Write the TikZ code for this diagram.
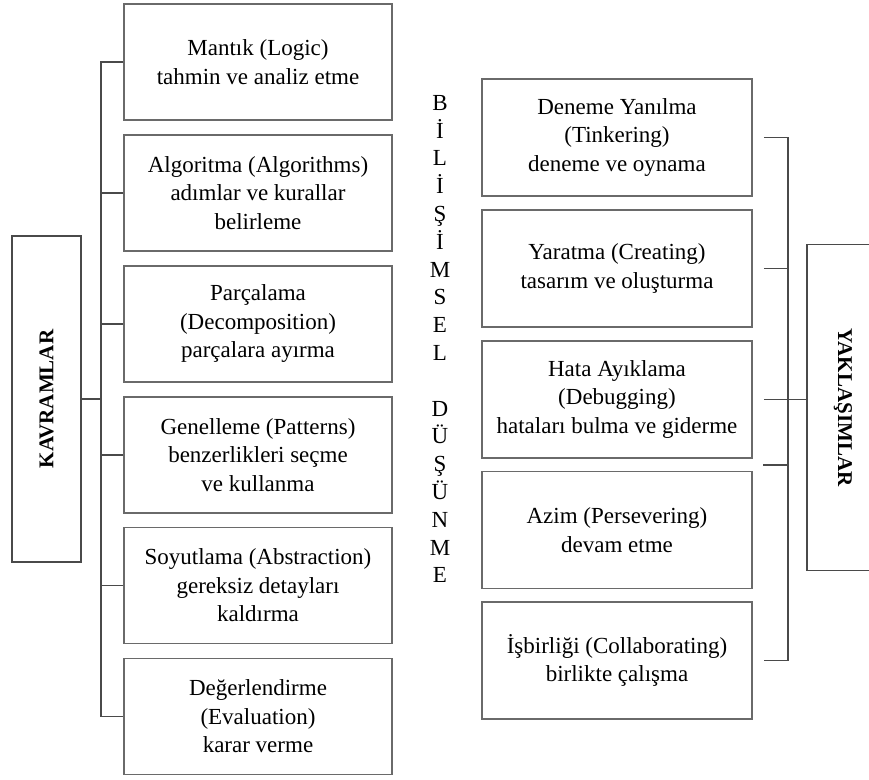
\documentclass[tikz,border=0pt]{standalone}
\usepackage{fontspec}
\setmainfont{Liberation Serif}
\definecolor{kutugri}{HTML}{6A6A6A}
\definecolor{kolgri}{HTML}{4A4A4A}
\begin{document}
\begin{tikzpicture}[x=0.5pt,y=-0.5pt,
	kutu/.style={draw=kutugri, line width=0.75pt, minimum width=134pt, minimum height=58pt, inner sep=0pt, align=center, font=\fontsize{11.5}{14.25}\selectfont},
	sagkutu/.style={kutu, minimum width=135pt, minimum height=58.5pt},
	ana/.style={draw=kolgri, line width=0.75pt, minimum width=163pt, minimum height=34.5pt, inner sep=0pt, font=\fontsize{10.5}{12}\selectfont\bfseries},
	kol/.style={draw=kolgri, line width=0.75pt}]
	\useasboundingbox (0,0) rectangle (869,780);

	\node[ana, rotate=90] (kavram) at (46.5,399) {KAVRAMLAR};
	\node[ana, rotate=-90, minimum height=36pt] (yaklas) at (843,407.5) {YAKLAŞIMLAR};

	\node[kutu] (l1) at (258,62) {Mantık (Logic)\\tahmin ve analiz etme};
	\node[kutu] (l2) at (258,193) {Algoritma (Algorithms)\\adımlar ve kurallar\\belirleme};
	\node[kutu] (l3) at (258,324) {Parçalama\\(Decomposition)\\parçalara ayırma};
	\node[kutu] (l4) at (258,455) {Genelleme (Patterns)\\benzerlikleri seçme\\ve kullanma};
	\node[kutu] (l5) at (258,585.5) {Soyutlama (Abstraction)\\gereksiz detayları\\kaldırma};
	\node[kutu] (l6) at (258,716.5) {Değerlendirme\\(Evaluation)\\karar verme};

	\node[sagkutu] (r1) at (617,137.5) {Deneme Yanılma\\(Tinkering)\\deneme ve oynama};
	\node[sagkutu] (r2) at (617,268.5) {Yaratma (Creating)\\tasarım ve oluşturma};
	\node[sagkutu] (r3) at (617,399.5) {Hata Ayıklama\\(Debugging)\\hataları bulma ve giderme};
	\node[sagkutu] (r4) at (617,530) {Azim (Persevering)\\devam etme};
	\node[sagkutu] (r5) at (617,660.5) {İşbirliği (Collaborating)\\birlikte çalışma};

	\node[align=center, font=\fontsize{11.5}{13.9}\selectfont] (bd) at (440,339) {B\\İ\\L\\İ\\Ş\\İ\\M\\S\\E\\L\\~\\D\\Ü\\Ş\\Ü\\N\\M\\E};

	\coordinate (solkol) at (101,0);
	\coordinate (sagkol) at (788,0);
	\coordinate (arakol) at (763,465);

	\draw[kol] (l1.west) -- (l1.west -| solkol) -- (l6.west -| solkol) -- (l6.west);
	\draw[kol] (l2.west) -- (l2.west -| solkol);
	\draw[kol] (l3.west) -- (l3.west -| solkol);
	\draw[kol] (l4.west) -- (l4.west -| solkol);
	\draw[kol] (l5.west) -- (l5.west -| solkol);
	\draw[kol] (kavram.south) -- (kavram.south -| solkol);

	\draw[kol] ([xshift=5.5pt]r1.east) -- (r1.east -| sagkol) -- (r5.east -| sagkol) -- ([xshift=5.5pt]r5.east);
	\draw[kol] ([xshift=5.5pt]r2.east) -- (r2.east -| sagkol);
	\draw[kol] ([xshift=5.5pt]r3.east) -- (r3.east -| yaklas.south);
	\draw[kol] (arakol) -- (arakol -| sagkol);
\end{tikzpicture}
\end{document}
